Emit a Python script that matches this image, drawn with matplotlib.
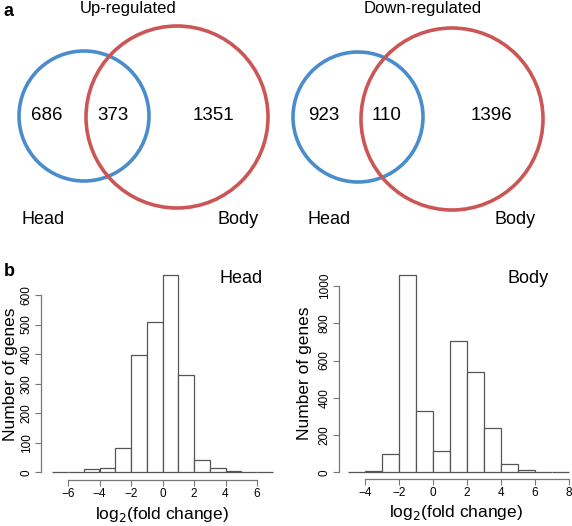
import numpy as np
import matplotlib.pyplot as plt
from matplotlib.patches import Circle

plt.rcParams['font.family'] = ['Liberation Sans', 'DejaVu Sans']

# Venn counts: (head only, shared, body only)
up_counts = [686, 373, 1351]
down_counts = [923, 110, 1396]

# histogram bins (log2 fold change) and gene counts
head_edges = np.arange(-7, 8)
head_counts = [0, 2, 10, 16, 81, 397, 507, 668, 329, 40, 15, 3, 1, 1]
body_edges = np.arange(-5, 9)
body_counts = [2, 10, 99, 1058, 331, 117, 707, 540, 237, 44, 13, 2, 1]

W, H = 572, 526
BLUE = '#4a8dcc'
RED = '#cc5656'

fig = plt.figure(figsize=(W / 100, H / 100), dpi=100)

def px_axes(x0, y0, x1, y1):
    # pixel box (top-left origin) -> figure axes
    return fig.add_axes([x0 / W, 1 - y1 / H, (x1 - x0) / W, (y1 - y0) / H])

# ---- panel a: venn diagrams on a pixel canvas
ov = px_axes(0, 0, W, H)
ov.set_xlim(0, W)
ov.set_ylim(H, 0)
ov.axis('off')

def venn(ax, title, counts, blue_c, red_c, title_x, num_x, lab_x):
    ax.add_patch(Circle(blue_c, 65, fill=False, ec=BLUE, lw=2.6))
    ax.add_patch(Circle(red_c, 91, fill=False, ec=RED, lw=2.6))
    ax.text(title_x, 8, title, ha='center', va='center', fontsize=12)
    for x, c in zip(num_x, counts):
        ax.text(x, 116, str(c), ha='center', va='center', fontsize=13.5)
    ax.text(lab_x[0], 219, 'Head', ha='center', va='center', fontsize=13)
    ax.text(lab_x[1], 219, 'Body', ha='center', va='center', fontsize=13)

venn(ov, 'Up-regulated', up_counts, (84, 116), (177, 117), 128,
     [47, 113, 213], [43, 238])
venn(ov, 'Down-regulated', down_counts, (358, 117), (452, 119), 423,
     [324, 387, 491], [329, 515])
ov.text(8, 12, 'a', ha='center', va='center', fontsize=13, fontweight='bold')
ov.text(9, 271, 'b', ha='center', va='center', fontsize=13, fontweight='bold')

# ---- panel b: histograms
def hist_panel(ax, edges, counts, xt, yt, name, name_x, ypad):
    ax.bar(edges[:-1], counts, width=1, align='edge', facecolor='white',
           edgecolor='#555555', linewidth=0.9)
    for s in ['top', 'right']:
        ax.spines[s].set_visible(False)
    ax.spines['left'].set_bounds(yt[0], yt[-1])
    ax.spines['bottom'].set_bounds(xt[0], xt[-1])
    for s in ['left', 'bottom']:
        ax.spines[s].set_color('#777777')
        ax.spines[s].set_linewidth(0.9)
    ax.set_xticks(xt)
    ax.set_yticks(yt)
    ax.set_yticklabels([str(v) for v in yt], rotation=90, va='center')
    ax.tick_params(direction='out', length=4, width=0.8, color='#777777',
                   labelsize=8.5, pad=2)
    ax.set_ylabel('Number of genes', fontsize=12.5, labelpad=ypad)
    ax.set_xlabel(r'log$_2$(fold change)', fontsize=12.5, labelpad=3)
    ax.text(name_x, 0.95, name, transform=ax.transAxes, ha='center', va='center', fontsize=13)
    ax.patch.set_alpha(0)

ax1 = px_axes(41, 268, 282, 480)
ax1.set_xlim((41 - 162.5) / 15.75, (282 - 162.5) / 15.75)
ax1.set_ylim((472.3 - 480) / 0.2955, (472.3 - 268) / 0.2955)
hist_panel(ax1, head_edges, head_counts, np.arange(-6, 7, 2), np.arange(0, 601, 100), 'Head', 0.83, 2)

ax2 = px_axes(339, 268, 572, 479)
ax2.set_xlim((339 - 433) / 17.0, (572 - 433) / 17.0)
ax2.set_ylim((472.4 - 479) / 0.1865, (472.4 - 268) / 0.1865)
hist_panel(ax2, body_edges, body_counts, np.arange(-4, 9, 2), np.arange(0, 1001, 200), 'Body', 0.81, 5)

fig.savefig('out.png', dpi=100)
